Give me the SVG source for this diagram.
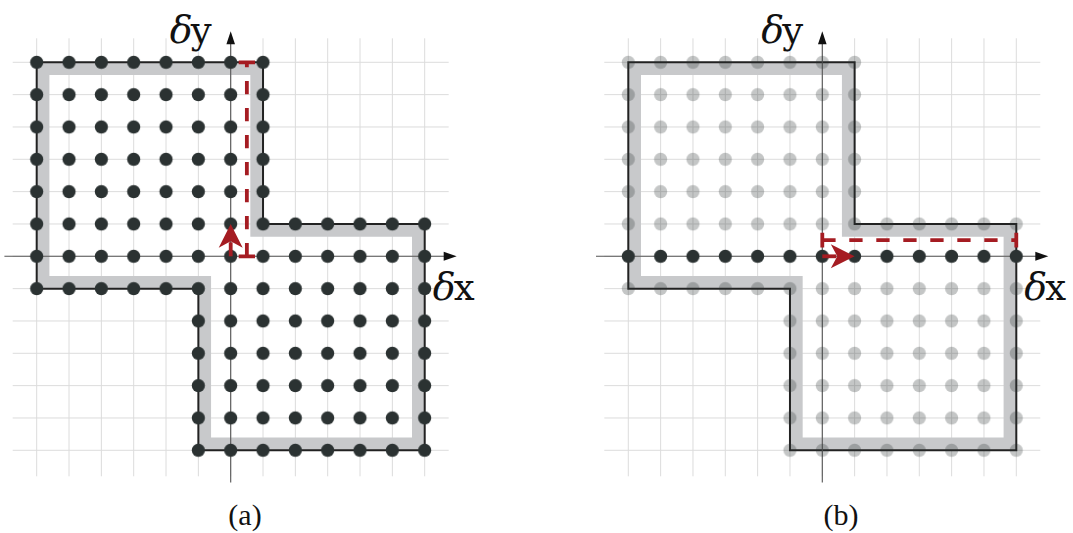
<svg xmlns="http://www.w3.org/2000/svg" width="1073" height="533" viewBox="0 0 1073 533">
<style>
.grid{fill:none;stroke:#dcdcdc;stroke-width:1}
.band{fill:none;stroke:#c8c9cb;stroke-width:12.7;stroke-linejoin:miter}
.outline{fill:none;stroke:#222;stroke-width:2;stroke-linejoin:miter}
.axis{fill:none;stroke:#555;stroke-width:1.1}
.ah{fill:#111}
.red{fill:none;stroke:#a51c22;stroke-width:3.8}
.dash{stroke-dasharray:13.3 13.7}
.redfill{fill:#a51c22}
.sym{font-family:"DejaVu Serif",serif;font-style:italic;font-size:38px;fill:#111}
.tt{font-family:"DejaVu Serif",serif;font-size:37px;fill:#111}
.cap{font-family:"Liberation Serif",serif;font-size:30px;fill:#111;text-anchor:middle}
</style>
<defs>
<pattern id="dotDark" patternUnits="userSpaceOnUse" x="-16.165" y="-16.165" width="32.33" height="32.33">
<circle cx="16.165" cy="16.165" r="6.6" fill="#2b3232"/>
</pattern>
<pattern id="dotLight" patternUnits="userSpaceOnUse" x="-16.165" y="-16.165" width="32.33" height="32.33">
<circle cx="16.165" cy="16.165" r="6.6" fill="#2b3232" fill-opacity="0.28"/>
</pattern>
<path id="gridp" class="grid" d="M-194 -218V220M-161.67 -218V220M-129.33 -218V220M-97 -218V220M-64.67 -218V220M-32.33 -218V220M0 -218V220M32.33 -218V220M64.67 -218V220M97 -218V220M129.33 -218V220M161.67 -218V220M194 -218V220M-218 -194H218M-218 -161.67H218M-218 -129.33H218M-218 -97H218M-218 -64.67H218M-218 -32.33H218M-218 0H218M-218 32.33H218M-218 64.67H218M-218 97H218M-218 129.33H218M-218 161.67H218M-218 194H218"/>
<polygon id="bandp" class="band" points="-187.65,-187.65 25.98,-187.65 25.98,-25.98 187.65,-25.98 187.65,187.65 -25.98,187.65 -25.98,25.98 -187.65,25.98"/>
<polygon id="outp" class="outline" points="-194,-194 32.33,-194 32.33,-32.33 194,-32.33 194,194 -32.33,194 -32.33,32.33 -194,32.33"/>
<g id="axesp">
<path class="axis" d="M-226.3 0H215M0 226.3V-213"/>
<polygon class="ah" points="226,0 213,-4.5 213,4.5"/>
<polygon class="ah" points="0,-225 -4.3,-212 4.3,-212"/>
</g>
</defs>

<g id="panel-a" transform="translate(230.7,256.3)">
<use href="#gridp"/>
<use href="#bandp"/>
<use href="#outp"/>
<use href="#axesp"/>
<g id="dots-a">
<rect x="-210.15" y="-210.15" width="258.64" height="161.65" fill="url(#dotDark)"/>
<rect x="-210.15" y="-48.5" width="420.3" height="97" fill="url(#dotDark)"/>
<rect x="-48.5" y="48.5" width="258.64" height="161.65" fill="url(#dotDark)"/>
</g>
<g id="red-a">
<path class="red dash" d="M16.165 0V-194"/>
<path class="red" d="M8 0H24.3M8 -194H24.3"/>
<path class="red" stroke-width="4.8" d="M0 0V-14"/>
<polygon class="redfill" points="0,-32.33 12,-8.5 0,-15 -12,-8.5"/>
</g>
<text class="sym" x="-61" y="-213">δ</text><text class="tt" x="-40" y="-213">y</text>
<text class="sym" x="202" y="44">δ</text><text class="tt" x="223" y="44">x</text>
</g>

<g id="panel-b" transform="translate(822.3,256.3)">
<use href="#gridp"/>
<use href="#bandp"/>
<use href="#outp"/>
<use href="#axesp"/>
<g id="dots-b">
<rect x="-210.15" y="-210.15" width="258.64" height="161.65" fill="url(#dotLight)"/>
<rect x="-210.15" y="-48.5" width="420.3" height="32.335" fill="url(#dotLight)"/>
<rect x="-210.15" y="16.165" width="420.3" height="32.335" fill="url(#dotLight)"/>
<rect x="-48.5" y="48.5" width="258.64" height="161.65" fill="url(#dotLight)"/>
<rect x="-210.15" y="-16.165" width="420.3" height="32.33" fill="url(#dotDark)"/>
</g>
<g id="red-b">
<path class="red dash" d="M0 -16.165H194"/>
<path class="red" d="M0 -23.5V-8.8M194 -23.5V-8.8"/>
<path class="red" stroke-width="4.8" d="M0 0H14"/>
<polygon class="redfill" points="32.33,0 8.5,-12 15,0 8.5,12"/>
</g>
<text class="sym" x="-61" y="-213">δ</text><text class="tt" x="-40" y="-213">y</text>
<text class="sym" x="202" y="44">δ</text><text class="tt" x="223" y="44">x</text>
</g>

<text id="cap-a" class="cap" x="245" y="525">(a)</text>
<text id="cap-b" class="cap" x="841" y="525">(b)</text>
</svg>
